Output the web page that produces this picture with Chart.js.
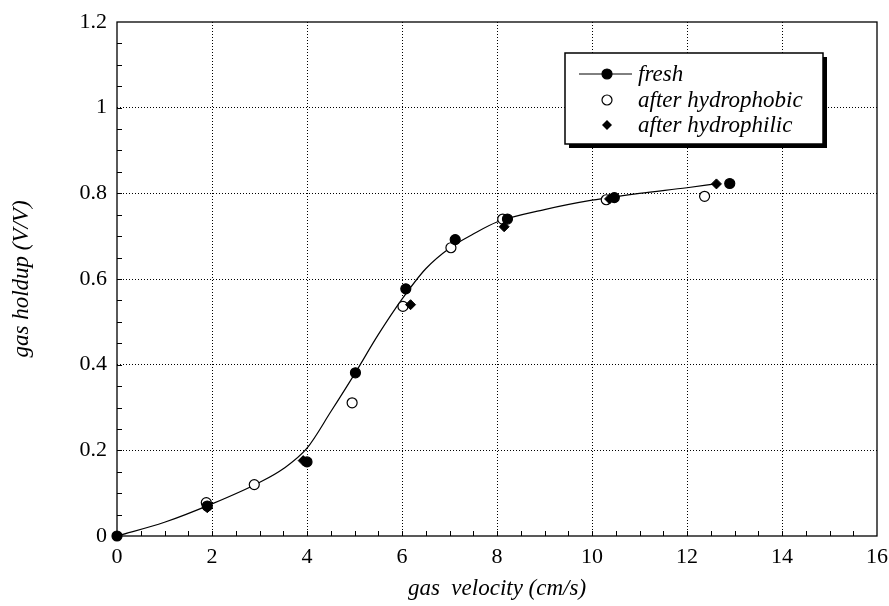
<!DOCTYPE html>
<html>
<head>
<meta charset="utf-8">
<script src="https://cdn.jsdelivr.net/npm/chart.js@4.4.1/dist/chart.umd.min.js"></script>
<style>
  html, body { margin: 0; padding: 0; background: #fff; }
  #wrap { width: 889px; height: 606px; }
</style>
</head>
<body>
<div id="wrap"><canvas id="holdupChart" width="889" height="606"></canvas></div>
<script>
// measured points (gas velocity cm/s vs gas holdup V/V)
const freshX = [0, 1.9, 4.0, 5.02, 6.08, 7.12, 8.22, 10.47, 12.9];
const freshY = [0, 0.07, 0.173, 0.381, 0.577, 0.692, 0.74, 0.79, 0.823];

const phobicX = [1.88, 2.89, 4.95, 6.02, 7.03, 8.12, 10.3, 12.37];
const phobicY = [0.078, 0.12, 0.311, 0.536, 0.673, 0.74, 0.785, 0.793];

const philicX = [0, 1.9, 3.92, 6.18, 8.15, 10.37, 12.62];
const philicY = [0, 0.066, 0.176, 0.54, 0.722, 0.787, 0.822];

// smooth curve through the fresh data
const fitX = [0, 1, 2, 3, 3.5, 4, 4.5, 5, 5.5, 6, 6.5, 7, 7.5, 8, 9, 10, 11, 12, 12.6];
const fitY = [0, 0.032, 0.075, 0.125, 0.157, 0.205, 0.29, 0.378, 0.47, 0.553, 0.624, 0.672, 0.705, 0.733, 0.762, 0.784, 0.8, 0.813, 0.822];

const legendLabels = ['fresh', 'after hydrophobic', 'after hydrophilic'];

const xTitle = 'gas  velocity (cm/s)';
const yTitle = 'gas holdup (V/V)';

const toPoints = (xs, ys) => xs.map((x, i) => ({ x: x, y: ys[i] }));

const serif = "'Liberation Serif', 'Times New Roman', serif";

function marker(ctx, kind, x, y) {
    ctx.beginPath();
    if (kind === 'diamond') {
        const r = 5;
        ctx.moveTo(x, y - r);
        ctx.lineTo(x + r, y);
        ctx.lineTo(x, y + r);
        ctx.lineTo(x - r, y);
        ctx.closePath();
        ctx.fillStyle = '#000';
        ctx.fill();
    } else {
        ctx.arc(x, y, 5, 0, Math.PI * 2);
        ctx.fillStyle = kind === 'open' ? '#fff' : '#000';
        ctx.fill();
        ctx.lineWidth = 1.2;
        ctx.strokeStyle = '#000';
        ctx.stroke();
    }
}

// frame, inward minor ticks and the boxed legend
const framePlugin = {
    id: 'frame',
    afterDraw(chart) {
        const { ctx, chartArea: a, scales } = chart;
        const xs = scales.x, ys = scales.y;
        ctx.save();
        ctx.strokeStyle = '#000';
        ctx.lineWidth = 1.3;
        ctx.strokeRect(a.left, a.top, a.right - a.left, a.bottom - a.top);

        ctx.lineWidth = 1;
        ctx.beginPath();
        for (let v = 0.5; v < 16; v += 0.5) {
            const px = Math.round(xs.getPixelForValue(v)) + 0.5;
            ctx.moveTo(px, a.bottom);
            ctx.lineTo(px, a.bottom - 5);
        }
        for (let v = 0.05; v < 1.2; v += 0.05) {
            const py = Math.round(ys.getPixelForValue(v)) + 0.5;
            ctx.moveTo(a.left, py);
            ctx.lineTo(a.left + 5, py);
        }
        ctx.stroke();

        // legend box with drop shadow
        const bx = 565, by = 53, bw = 258, bh = 91;
        ctx.fillStyle = '#000';
        ctx.fillRect(bx + 4, by + 4, bw, bh);
        ctx.fillStyle = '#fff';
        ctx.fillRect(bx, by, bw, bh);
        ctx.lineWidth = 1.5;
        ctx.strokeStyle = '#000';
        ctx.strokeRect(bx, by, bw, bh);

        const symX = 607, textX = 638;
        const rows = [74, 100, 125];
        ctx.lineWidth = 1;
        ctx.beginPath();
        ctx.moveTo(579, rows[0]);
        ctx.lineTo(632, rows[0]);
        ctx.stroke();
        marker(ctx, 'filled', symX, rows[0]);
        marker(ctx, 'open', symX, rows[1]);
        marker(ctx, 'diamond', symX, rows[2]);

        ctx.fillStyle = '#000';
        ctx.font = 'italic 23px ' + serif;
        ctx.textBaseline = 'middle';
        ctx.textAlign = 'left';
        legendLabels.forEach((t, i) => ctx.fillText(t, textX, rows[i] + 1));
        ctx.restore();
    }
};

const edgeTransparent = (max) => (c) =>
    (c.tick.value === 0 || Math.abs(c.tick.value - max) < 1e-9) ? 'rgba(0,0,0,0)' : '#000';

new Chart(document.getElementById('holdupChart'), {
    type: 'scatter',
    data: {
        datasets: [
            {
                type: 'line',
                data: toPoints(fitX, fitY),
                borderColor: '#000',
                borderWidth: 1.2,
                pointRadius: 0,
                cubicInterpolationMode: 'monotone',
                fill: false,
                order: 4
            },
            {
                label: legendLabels[0],
                data: toPoints(freshX, freshY),
                pointStyle: 'circle',
                pointRadius: 5,
                backgroundColor: '#000',
                borderColor: '#000',
                borderWidth: 1.2,
                clip: false,
                order: 2
            },
            {
                label: legendLabels[1],
                data: toPoints(phobicX, phobicY),
                pointStyle: 'circle',
                pointRadius: 5,
                backgroundColor: '#fff',
                borderColor: '#000',
                borderWidth: 1.2,
                clip: false,
                order: 3
            },
            {
                label: legendLabels[2],
                data: toPoints(philicX, philicY),
                pointStyle: 'rectRot',
                pointRadius: 5,
                backgroundColor: '#000',
                borderColor: '#000',
                borderWidth: 1,
                clip: false,
                order: 1
            }
        ]
    },
    options: {
        responsive: false,
        animation: false,
        layout: { padding: { left: 0, right: 12, top: 22, bottom: 0 } },
        plugins: { legend: { display: false }, tooltip: { enabled: false } },
        scales: {
            x: {
                type: 'linear',
                min: 0,
                max: 16,
                afterFit: (s) => { s.height = 70; s.paddingLeft = 0; s.paddingRight = 0; },
                ticks: {
                    stepSize: 2,
                    padding: 8,
                    color: '#000',
                    font: { family: serif, size: 22 }
                },
                grid: { color: edgeTransparent(16), lineWidth: 1, drawTicks: false },
                border: { display: false, dash: [1, 2] },
                title: {
                    display: true,
                    text: xTitle,
                    color: '#000',
                    font: { family: serif, size: 23, style: 'italic' },
                    padding: { top: 0, bottom: 3 }
                }
            },
            y: {
                min: 0,
                max: 1.2,
                afterFit: (s) => { s.width = 117; s.paddingTop = 0; s.paddingBottom = 0; },
                ticks: {
                    stepSize: 0.2,
                    padding: 10,
                    color: '#000',
                    font: { family: serif, size: 22 },
                    callback: (v) => String(+v.toFixed(1))
                },
                grid: { color: edgeTransparent(1.2), lineWidth: 1, drawTicks: false },
                border: { display: false, dash: [1, 2] },
                title: {
                    display: true,
                    text: yTitle,
                    color: '#000',
                    font: { family: serif, size: 23, style: 'italic' },
                    padding: { top: 8, bottom: 0 }
                }
            }
        }
    },
    plugins: [framePlugin]
});
</script>
</body>
</html>
